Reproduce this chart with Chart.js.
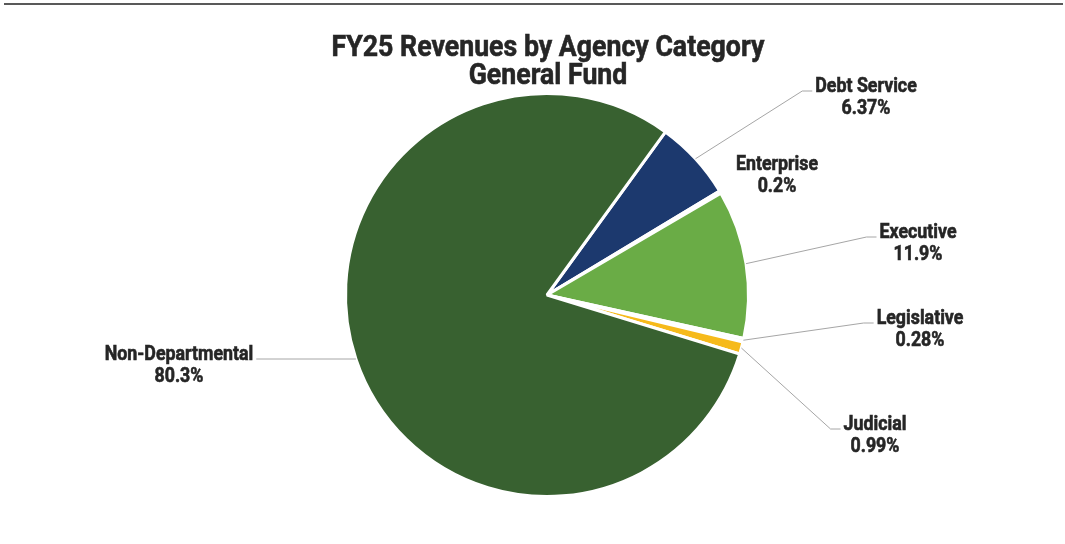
<!DOCTYPE html>
<html>
<head>
<meta charset="utf-8">
<script src="https://cdn.jsdelivr.net/npm/chart.js@4/dist/chart.umd.min.js"></script>
<style>
  html, body { margin: 0; padding: 0; background: #fff; }
  #wrap { position: relative; width: 1065px; height: 544px; }
</style>
</head>
<body>
<div id="wrap"><canvas id="revenue-pie"></canvas></div>
<script>
// data
var categories = ["Debt Service", "Enterprise", "Executive", "Legislative", "Judicial", "Non-Departmental"];
var shares = [6.37, 0.2, 11.9, 0.28, 0.99, 80.3];
var shareLabels = ["6.37%", "0.2%", "11.9%", "0.28%", "0.99%", "80.3%"];
var sliceColors = ["#1C396E", "#F2F2F2", "#6AAC46", "#F2F2F2", "#F6BA1B", "#386130"];
var titleLines = ["FY25 Revenues by Agency Category", "General Fund"];

// label placement relative to the pie centre (baseline of first line, centred)
var labelSpots = [
  { dx: 319, dy: -203, leader: true },
  { dx: 230, dy: -125, leader: false },
  { dx: 371, dy: -57, leader: true },
  { dx: 373, dy: 29, leader: true },
  { dx: 328, dy: 135, leader: true },
  { dx: -368, dy: 65, leader: true, straight: true }
];

var SQUEEZE = 0.89; // fake a condensed face

function condensedText(ctx, text, x, y) {
  ctx.save();
  ctx.translate(x, y);
  ctx.scale(SQUEEZE, 1);
  ctx.textAlign = "center";
  ctx.lineWidth = 0.6;
  ctx.strokeStyle = ctx.fillStyle;
  ctx.fillText(text, 0, 0);
  ctx.strokeText(text, 0, 0);
  ctx.restore();
}

var decorPlugin = {
  id: "decor",
  beforeDraw: function (chart) {
    var ctx = chart.ctx;
    ctx.save();
    ctx.fillStyle = "#fff";
    ctx.fillRect(0, 0, chart.width, chart.height);
    ctx.fillStyle = "#595959";
    ctx.fillRect(4, 3, 1059, 2);
    ctx.restore();
  },
  afterDraw: function (chart) {
    var ctx = chart.ctx;
    var arcs = chart.getDatasetMeta(0).data;
    var cx = arcs[0].x, cy = arcs[0].y;
    var r = arcs[0].outerRadius;

    ctx.save();
    ctx.fillStyle = "#262626";
    ctx.textBaseline = "alphabetic";
    ctx.font = "bold 30px Roboto";
    condensedText(ctx, titleLines[0], 548, 56);
    condensedText(ctx, titleLines[1], 548, 84);

    ctx.font = "bold 20px Roboto";
    labelSpots.forEach(function (spot, i) {
      var lx = cx + spot.dx, ly = cy + spot.dy;
      condensedText(ctx, categories[i], lx, ly);
      condensedText(ctx, shareLabels[i], lx, ly + 22);

      if (!spot.leader) return;
      var halfW = ctx.measureText(categories[i]).width * SQUEEZE / 2;
      var side = spot.dx > 0 ? 1 : -1;
      var endX = lx - side * (halfW + 3);
      var endY = ly - 1;
      var elbowX = endX - side * 10;
      var sx, sy;
      if (spot.straight) {
        sy = endY;
        sx = cx + side * Math.sqrt(r * r - (sy - cy) * (sy - cy));
        elbowX = endX;
      } else {
        var a = (arcs[i].startAngle + arcs[i].endAngle) / 2;
        sx = cx + r * Math.cos(a);
        sy = cy + r * Math.sin(a);
      }
      ctx.strokeStyle = "#A6A6A6";
      ctx.lineWidth = 1;
      ctx.beginPath();
      ctx.moveTo(sx, sy);
      ctx.lineTo(elbowX, endY);
      ctx.lineTo(endX, endY);
      ctx.stroke();
    });
    ctx.restore();
  }
};

document.addEventListener("DOMContentLoaded", function () {
  var canvas = document.getElementById("revenue-pie");
  new Chart(canvas, {
    type: "pie",
    data: {
      labels: categories,
      datasets: [
        {
          data: shares,
          backgroundColor: sliceColors,
          borderColor: "#ffffff",
          borderWidth: 3,
        },
      ],
    },
    options: {
      responsive: true,
      maintainAspectRatio: false,
      animation: false,
      rotation: 36,
      layout: {
        padding: { top: 92, bottom: 46, left: 344, right: 315 },
      },
      plugins: {
        legend: { display: false },
        tooltip: { enabled: false },
        title: { display: false },
      },
    },
    plugins: [decorPlugin],
  });
});
</script>
</body>
</html>
